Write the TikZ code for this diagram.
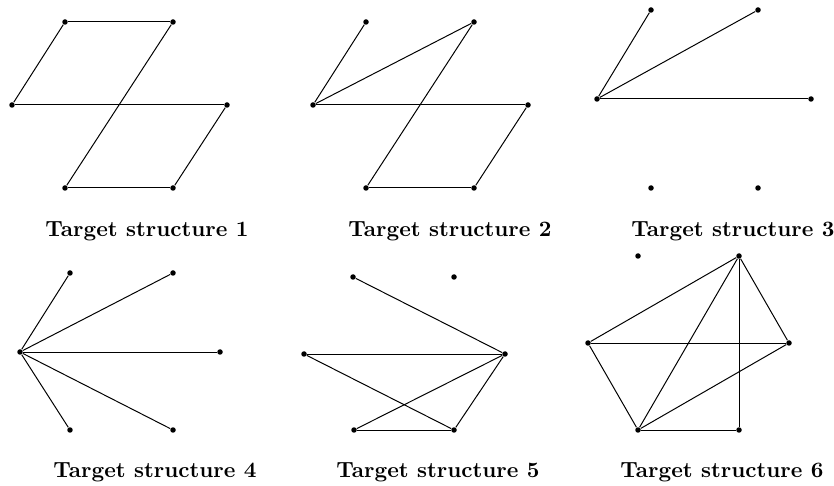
\documentclass[tikz,border=0pt]{standalone}
\usepackage{xcolor}
\usepackage{tikz}
\usetikzlibrary{positioning}

\begin{document}
\begin{tikzpicture}[
    x = 0.455pt, y = -0.455pt,
    vtx/.style  = {circle, fill = black, inner sep = 0pt, minimum size = 2.5pt},
    link/.style = {line width = 0.45pt, black},
    lbl/.style  = {anchor = base, font = \bfseries}
  ]
    \useasboundingbox (0,0) rectangle (834,486);

    % ── Structure 1 ──────────────────────────────────────────────────────────
    \node[vtx] (s1tl) at (65,22)  {};  \node[vtx] (s1tr) at (173,22)  {};
    \node[vtx] (s1l)  at (12,105) {};  \node[vtx] (s1r)  at (227,105) {};
    \node[vtx] (s1bl) at (65,188) {};  \node[vtx] (s1br) at (173,188) {};
    \draw[link] (s1tl) -- (s1tr);
    \draw[link] (s1tl) -- (s1l);
    \draw[link] (s1l)  -- (s1r);
    \draw[link] (s1tr) -- (s1bl);
    \draw[link] (s1r)  -- (s1br);
    \draw[link] (s1bl) -- (s1br);
    \node[lbl] (c1) at (147,237) {Target structure 1};

    % ── Structure 2 ──────────────────────────────────────────────────────────
    \node[vtx] (s2tl) at (366,22)  {};  \node[vtx] (s2tr) at (474,22)  {};
    \node[vtx] (s2l)  at (313,105) {};  \node[vtx] (s2r)  at (528,105) {};
    \node[vtx] (s2bl) at (366,188) {};  \node[vtx] (s2br) at (474,188) {};
    \draw[link] (s2tl) -- (s2l);
    \draw[link] (s2l)  -- (s2tr);
    \draw[link] (s2l)  -- (s2r);
    \draw[link] (s2tr) -- (s2bl);
    \draw[link] (s2r)  -- (s2br);
    \draw[link] (s2bl) -- (s2br);
    \node[lbl] (c2) at (450,237) {Target structure 2};

    % ── Structure 3 ──────────────────────────────────────────────────────────
    \node[vtx] (s3tl) at (651,10)  {};  \node[vtx] (s3tr) at (758,10)  {};
    \node[vtx] (s3l)  at (597,99)  {};  \node[vtx] (s3r)  at (811,99)  {};
    \node[vtx] (s3bl) at (651,188) {};  \node[vtx] (s3br) at (758,188) {};
    \draw[link] (s3l) -- (s3tl);
    \draw[link] (s3l) -- (s3tr);
    \draw[link] (s3l) -- (s3r);
    \node[lbl] (c3) at (733,237) {Target structure 3};

    % ── Structure 4 ──────────────────────────────────────────────────────────
    \node[vtx] (s4tl) at (70,273)  {};  \node[vtx] (s4tr) at (173,273) {};
    \node[vtx] (s4l)  at (20,352)  {};  \node[vtx] (s4r)  at (220,352) {};
    \node[vtx] (s4bl) at (70,430)  {};  \node[vtx] (s4br) at (173,430) {};
    \foreach \t in {s4tl, s4tr, s4r, s4bl, s4br}
      \draw[link] (s4l) -- (\t);
    \node[lbl] (c4) at (155,477) {Target structure 4};

    % ── Structure 5 ──────────────────────────────────────────────────────────
    \node[vtx] (s5tl) at (353,277) {};  \node[vtx] (s5tr) at (454,277) {};
    \node[vtx] (s5l)  at (304,354) {};  \node[vtx] (s5r)  at (505,354) {};
    \node[vtx] (s5bl) at (354,430) {};  \node[vtx] (s5br) at (454,430) {};
    \draw[link] (s5tl) -- (s5r);
    \draw[link] (s5l)  -- (s5r);
    \draw[link] (s5l)  -- (s5br);
    \draw[link] (s5r)  -- (s5bl);
    \draw[link] (s5r)  -- (s5br);
    \draw[link] (s5bl) -- (s5br);
    \node[lbl] (c5) at (438,477) {Target structure 5};

    % ── Structure 6 ──────────────────────────────────────────────────────────
    \node[vtx] (s6tl) at (638,256) {};  \node[vtx] (s6tr) at (739,256) {};
    \node[vtx] (s6l)  at (588,343) {};  \node[vtx] (s6r)  at (789,343) {};
    \node[vtx] (s6bl) at (638,430) {};  \node[vtx] (s6br) at (739,430) {};
    \foreach \t in {s6l, s6r, s6bl, s6br}
      \draw[link] (s6tr) -- (\t);
    \draw[link] (s6l)  -- (s6r);
    \draw[link] (s6l)  -- (s6bl);
    \draw[link] (s6bl) -- (s6r);
    \draw[link] (s6bl) -- (s6br);
    \node[lbl] (c6) at (722,477) {Target structure 6};
  \end{tikzpicture}
\end{document}
